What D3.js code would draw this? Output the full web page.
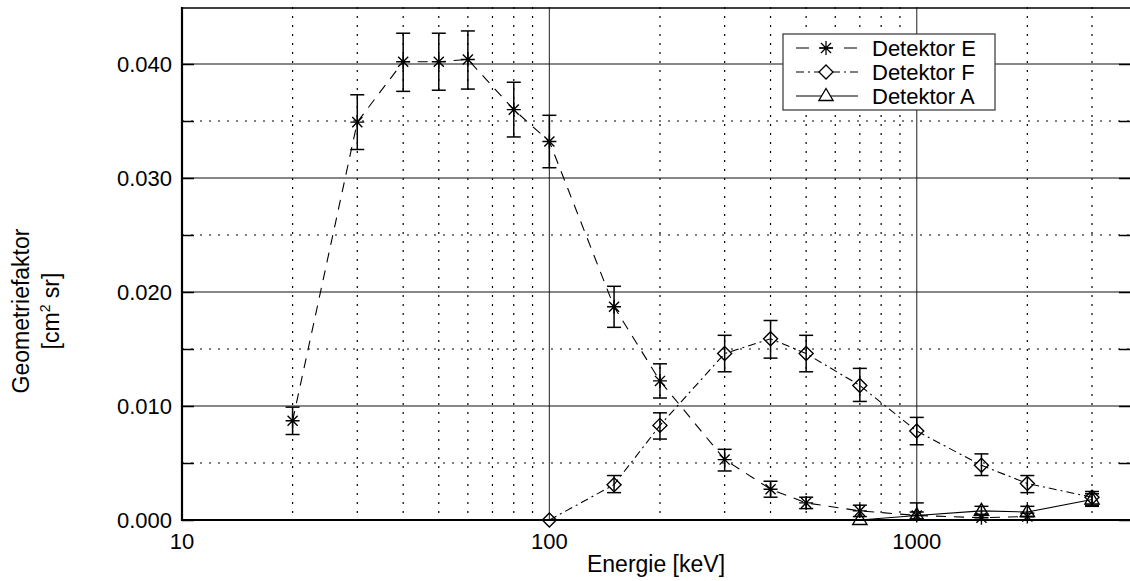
<!DOCTYPE html>
<html>
<head>
<meta charset="utf-8">
<script src="https://cdn.jsdelivr.net/npm/d3@7"></script>
<style>
  body { margin: 0; background: #fff; }
  text { font-family: "Liberation Sans", Arial, Helvetica, sans-serif; fill: #000; }
</style>
</head>
<body>
<svg id="chart" width="1130" height="581"></svg>
<script>
// energies in keV
var energyE = [20, 30, 40, 50, 60, 80, 100, 150, 200, 300, 400, 500, 700, 1000, 1500, 2000]
var valueE  = [0.0087, 0.0349, 0.0402, 0.0402, 0.0404, 0.0360, 0.0332, 0.0187, 0.0122, 0.0053, 0.0027, 0.0015, 0.0008, 0.0004, 0.0002, 0.0003]
var lowE    = [0.0075, 0.0325, 0.0376, 0.0377, 0.0378, 0.0336, 0.0309, 0.0169, 0.0107, 0.0043, 0.0020, 0.0010, 0.0003, 0.0001, 0.0000, 0.0000]
var highE   = [0.0099, 0.0373, 0.0427, 0.0427, 0.0429, 0.0384, 0.0355, 0.0205, 0.0137, 0.0062, 0.0034, 0.0020, 0.0013, 0.0007, 0.0005, 0.0006]

var energyF = [100, 150, 200, 300, 400, 500, 700, 1000, 1500, 2000, 3000]
var valueF  = [0.0000, 0.0031, 0.0083, 0.0146, 0.0159, 0.0146, 0.0118, 0.0078, 0.0048, 0.0032, 0.0020]
var lowF    = [0.0000, 0.0024, 0.0071, 0.0130, 0.0142, 0.0130, 0.0104, 0.0066, 0.0039, 0.0024, 0.0012]
var highF   = [0.0000, 0.0039, 0.0094, 0.0162, 0.0175, 0.0162, 0.0133, 0.0090, 0.0058, 0.0039, 0.0025]

var energyA = [700, 1000, 1500, 2000, 3000]
var valueA  = [0.0000, 0.0004, 0.0008, 0.0007, 0.0018]
var lowA    = [0.0000, 0.0000, 0.0004, 0.0003, 0.0013]
var highA   = [0.0000, 0.0015, 0.0012, 0.0012, 0.0023]

var xMajor = [10, 100, 1000]
var xMinor = [20, 30, 40, 50, 60, 70, 80, 90, 200, 300, 400, 500, 600, 700, 800, 900, 2000, 3000]
var yMajor = [0.00, 0.01, 0.02, 0.03, 0.04]
var yMinor = [0.005, 0.015, 0.025, 0.035]

var legendNames = ["Detektor E", "Detektor F", "Detektor A"]

// plot box (window.top is reserved, hence the prefix)
var pL = 182, pR = 1131, pT = 7, pB = 520

var svg = d3.select("#chart")

var x = d3.scaleLog().domain([10, 3830]).range([pL, pR])
var y = d3.scaleLinear().domain([0, 0.045]).range([pB, pT])

// grid
var grid = svg.append("g")
grid.selectAll(".vmin").data(xMinor).enter().append("line")
    .attr("x1", d => x(d)).attr("x2", d => x(d))
    .attr("y1", pT).attr("y2", pB)
    .attr("stroke", "#000").attr("stroke-width", 1.2)
    .attr("stroke-dasharray", "2,7")
grid.selectAll(".hmin").data(yMinor).enter().append("line")
    .attr("x1", pL).attr("x2", pR)
    .attr("y1", d => y(d)).attr("y2", d => y(d))
    .attr("stroke", "#000").attr("stroke-width", 1.2)
    .attr("stroke-dasharray", "2,7")
grid.selectAll(".vmaj").data(xMajor.slice(1)).enter().append("line")
    .attr("x1", d => x(d)).attr("x2", d => x(d))
    .attr("y1", pT).attr("y2", pB)
    .attr("stroke", "#444").attr("stroke-width", 1.2)
grid.selectAll(".hmaj").data(yMajor.slice(1)).enter().append("line")
    .attr("x1", pL).attr("x2", pR)
    .attr("y1", d => y(d)).attr("y2", d => y(d))
    .attr("stroke", "#111").attr("stroke-width", 1.2)

// inward ticks on left and right
svg.append("g").attr("transform", "translate(" + pL + ",0)")
    .call(d3.axisLeft(y).tickValues(yMajor.concat(yMinor)).tickSize(-12).tickFormat(""))
    .call(g => g.select(".domain").remove())
    .selectAll("line").attr("stroke-width", 1.5)
svg.append("g").attr("transform", "translate(" + pR + ",0)")
    .call(d3.axisRight(y).tickValues(yMajor.concat(yMinor)).tickSize(-12).tickFormat(""))
    .call(g => g.select(".domain").remove())
    .selectAll("line").attr("stroke-width", 1.5)

// tick labels
svg.append("g").selectAll("text").data(yMajor).enter().append("text")
    .attr("x", pL - 10).attr("y", d => y(d)).attr("dy", "0.36em")
    .attr("text-anchor", "end").style("font-size", "22px")
    .text(d => d3.format(".3f")(d))
svg.append("g").selectAll("text").data(xMajor).enter().append("text")
    .attr("x", d => x(d)).attr("y", 549)
    .attr("text-anchor", "middle").style("font-size", "22px")
    .text(d => d)

// frame
svg.append("line").attr("x1", pL).attr("x2", pR).attr("y1", pB).attr("y2", pB)
    .attr("stroke", "#000").attr("stroke-width", 2.2)
svg.append("line").attr("x1", pL).attr("x2", pL).attr("y1", pT).attr("y2", pB + 1)
    .attr("stroke", "#000").attr("stroke-width", 2.2)
svg.append("line").attr("x1", pL).attr("x2", pR).attr("y1", pT + 1).attr("y2", pT + 1)
    .attr("stroke", "#000").attr("stroke-width", 1.5)

// axis labels
svg.append("text").attr("x", 656).attr("y", 572).attr("text-anchor", "middle")
    .style("font-size", "23px").text("Energie [keV]")
svg.append("text").attr("transform", "translate(29,311) rotate(-90)")
    .attr("text-anchor", "middle").style("font-size", "23px").text("Geometriefaktor")
var unit = svg.append("text").attr("transform", "translate(59,311) rotate(-90)")
    .attr("text-anchor", "middle").style("font-size", "23px")
unit.append("tspan").text("[cm")
unit.append("tspan").attr("dy", -9).style("font-size", "14px").text("2")
unit.append("tspan").attr("dy", 9).text(" sr]")

// marker shapes
function asterisk(r) {
    var p = d3.path(), d = r * 0.72
    p.moveTo(-r, 0); p.lineTo(r, 0)
    p.moveTo(0, -r); p.lineTo(0, r)
    p.moveTo(-d, -d); p.lineTo(d, d)
    p.moveTo(-d, d); p.lineTo(d, -d)
    return p.toString()
}
function diamond(r) {
    var p = d3.path()
    p.moveTo(0, -r); p.lineTo(r, 0); p.lineTo(0, r); p.lineTo(-r, 0); p.closePath()
    return p.toString()
}
function triangle(r) {
    var p = d3.path()
    p.moveTo(0, -r); p.lineTo(r * 0.95, r * 0.6); p.lineTo(-r * 0.95, r * 0.6); p.closePath()
    return p.toString()
}

var series = [
    { xs: energyE, ys: valueE, lo: lowE, hi: highE, dash: "10,8", marker: asterisk(7), fill: "none" },
    { xs: energyF, ys: valueF, lo: lowF, hi: highF, dash: "8,4,2,4", marker: diamond(7), fill: "#fff" },
    { xs: energyA, ys: valueA, lo: lowA, hi: highA, dash: null, marker: triangle(7.5), fill: "#fff" }
]

var line = d3.line().x(d => x(d[0])).y(d => y(d[1]))

series.forEach(function(s) {
    var pts = s.xs.map((e, i) => [e, s.ys[i], s.lo[i], s.hi[i]])
    var g = svg.append("g")
    g.append("path").attr("d", line(pts))
        .attr("fill", "none").attr("stroke", "#000").attr("stroke-width", 1.1)
        .attr("stroke-dasharray", s.dash)
    var eb = g.selectAll(".eb").data(pts.filter(d => d[3] > d[2])).enter().append("g")
    eb.append("line").attr("x1", d => x(d[0])).attr("x2", d => x(d[0]))
        .attr("y1", d => y(d[2])).attr("y2", d => y(d[3]))
        .attr("stroke", "#000").attr("stroke-width", 1.5)
    eb.append("line").attr("x1", d => x(d[0]) - 7).attr("x2", d => x(d[0]) + 7)
        .attr("y1", d => y(d[3])).attr("y2", d => y(d[3]))
        .attr("stroke", "#000").attr("stroke-width", 1.5)
    eb.append("line").attr("x1", d => x(d[0]) - 7).attr("x2", d => x(d[0]) + 7)
        .attr("y1", d => y(d[2])).attr("y2", d => y(d[2]))
        .attr("stroke", "#000").attr("stroke-width", 1.5)
    g.selectAll(".mk").data(pts).enter().append("path")
        .attr("transform", d => "translate(" + x(d[0]) + "," + y(d[1]) + ")")
        .attr("d", s.marker).attr("fill", "none")
        .attr("stroke", "#000").attr("stroke-width", 1.4)
})

// legend
var lg = svg.append("g")
lg.append("rect").attr("x", 783).attr("y", 34).attr("width", 212).attr("height", 76)
    .attr("fill", "#fff").attr("stroke", "#333").attr("stroke-width", 1.2)
var rows = lg.selectAll(".row").data(series).enter().append("g")
    .attr("transform", (d, i) => "translate(0," + (48 + i * 24) + ")")
rows.append("line").attr("x1", 796).attr("x2", 858).attr("y1", 0).attr("y2", 0)
    .attr("stroke", "#000").attr("stroke-width", 1.1)
    .attr("stroke-dasharray", (d, i) => i === 0 ? "13,11" : d.dash)
rows.append("path").attr("transform", "translate(826,0)")
    .attr("d", d => d.marker).attr("fill", d => d.fill)
    .attr("stroke", "#000").attr("stroke-width", 1.3)
rows.append("text").attr("x", 872).attr("y", 0).attr("dy", "0.36em")
    .style("font-size", "22px").text((d, i) => legendNames[i])
</script>
</body>
</html>
